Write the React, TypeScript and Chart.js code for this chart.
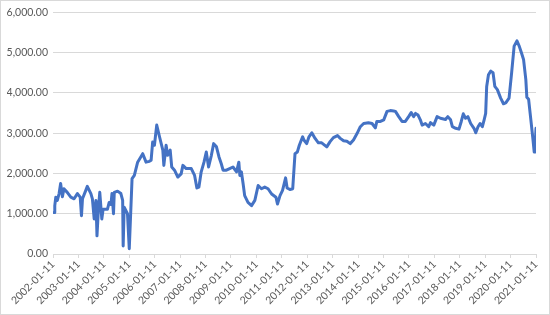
import React, { useEffect, useRef } from "react";
import { Chart, registerables } from "chart.js";

Chart.register(...registerables);

// decimal years
const dates = [
  2002.04, 2002.07, 2002.11, 2002.17, 2002.24, 2002.30, 2002.37, 2002.43, 2002.56, 2002.70,
  2002.83, 2002.96, 2003.07, 2003.12, 2003.16, 2003.29, 2003.35, 2003.49, 2003.55, 2003.62,
  2003.69, 2003.73, 2003.79, 2003.84, 2003.92, 2003.97, 2004.14, 2004.21, 2004.28, 2004.32,
  2004.38, 2004.41, 2004.54, 2004.67, 2004.74, 2004.76, 2004.80, 2004.93, 2005.00, 2005.11,
  2005.20, 2005.33, 2005.53, 2005.66, 2005.79, 2005.86, 2005.92, 2005.99, 2006.08, 2006.19,
  2006.32, 2006.36, 2006.45, 2006.51, 2006.61, 2006.67, 2006.78, 2006.91, 2007.04, 2007.11,
  2007.24, 2007.44, 2007.57, 2007.66, 2007.74, 2007.83, 2007.94, 2008.03, 2008.12, 2008.23,
  2008.32, 2008.43, 2008.53, 2008.62, 2008.69, 2008.82, 2008.95, 2009.08, 2009.22, 2009.31,
  2009.35, 2009.41, 2009.48, 2009.54, 2009.67, 2009.81, 2009.94, 2010.07, 2010.20, 2010.33,
  2010.46, 2010.60, 2010.77, 2010.83, 2010.93, 2011.03, 2011.15, 2011.21, 2011.32, 2011.43,
  2011.52, 2011.61, 2011.69, 2011.82, 2011.87, 2011.98, 2012.07, 2012.18, 2012.31, 2012.44,
  2012.57, 2012.77, 2012.90, 2013.03, 2013.19, 2013.30, 2013.43, 2013.56, 2013.69, 2013.82,
  2013.96, 2014.09, 2014.22, 2014.41, 2014.55, 2014.68, 2014.74, 2014.88, 2015.01, 2015.14,
  2015.27, 2015.40, 2015.47, 2015.60, 2015.73, 2015.86, 2015.99, 2016.09, 2016.19, 2016.26,
  2016.36, 2016.45, 2016.52, 2016.65, 2016.78, 2016.85, 2016.98, 2017.11, 2017.24, 2017.44,
  2017.53, 2017.64, 2017.71, 2017.84, 2017.97, 2018.06, 2018.14, 2018.23, 2018.32, 2018.43,
  2018.56, 2018.63, 2018.72, 2018.80, 2018.89, 2018.96, 2019.02, 2019.06, 2019.13, 2019.22,
  2019.31, 2019.38, 2019.48, 2019.61, 2019.72, 2019.81, 2019.94, 2020.04, 2020.14, 2020.25,
  2020.34, 2020.43, 2020.51, 2020.60, 2020.64, 2020.71, 2020.77, 2020.87, 2020.93, 2020.96,
  2021.00,
];

const values = [
  1030, 1200, 1410, 1330, 1500, 1750, 1420, 1620, 1530, 1410,
  1370, 1500, 1410, 950, 1370, 1580, 1680, 1500, 1370, 870,
  1330, 450, 1160, 1530, 870, 1110, 1110, 1280, 1230, 1500,
  1000, 1530, 1560, 1500, 1330, 200, 1160, 1000, 130, 1870,
  1950, 2280, 2490, 2280, 2300, 2330, 2780, 2700, 3200, 2910,
  2580, 2200, 2700, 2450, 2580, 2160, 2080, 1910, 1990, 2200,
  2120, 2120, 1950, 1640, 1660, 2040, 2280, 2530, 2160, 2450,
  2740, 2660, 2410, 2240, 2080, 2080, 2120, 2160, 2040, 2280,
  1950, 2040, 1740, 1450, 1280, 1200, 1330, 1700, 1620, 1660,
  1620, 1490, 1410, 1240, 1450, 1580, 1890, 1640, 1600, 1620,
  2490, 2530, 2700, 2910, 2830, 2740, 2910, 3010, 2870, 2760,
  2760, 2660, 2790, 2890, 2940, 2870, 2810, 2800, 2740, 2830,
  2990, 3160, 3240, 3260, 3240, 3130, 3290, 3290, 3330, 3540,
  3560, 3550, 3540, 3410, 3290, 3290, 3410, 3510, 3410, 3490,
  3450, 3330, 3200, 3240, 3160, 3260, 3200, 3410, 3370, 3340,
  3410, 3330, 3160, 3120, 3100, 3290, 3480, 3370, 3410, 3240,
  3120, 3010, 3160, 3240, 3160, 3330, 3490, 4160, 4450, 4540,
  4500, 4160, 4080, 3870, 3730, 3750, 3870, 4490, 5160, 5290,
  5160, 4990, 4830, 4330, 3890, 3840, 3490, 2910, 2530, 2600,
  3120,
];

const tickYears = [
  2002, 2003, 2004, 2005, 2006, 2007, 2008, 2009, 2010, 2011,
  2012, 2013, 2014, 2015, 2016, 2017, 2018, 2019, 2020, 2021,
];
const tickLabels = [
  "2002-01-11", "2003-01-11", "2004-01-11", "2005-01-11", "2006-01-11",
  "2007-01-11", "2008-01-11", "2009-01-11", "2010-01-11", "2011-01-11",
  "2012-01-11", "2013-01-11", "2014-01-11", "2015-01-11", "2016-01-11",
  "2017-01-11", "2018-01-11", "2019-01-11", "2020-01-11", "2021-01-11",
];
const yTicks = [0, 1000, 2000, 3000, 4000, 5000, 6000];

export default function App() {
  const ref = useRef<HTMLCanvasElement | null>(null);

  useEffect(() => {
    document.body.style.margin = "0";
    if (!ref.current) return;
    const font = { family: "Lato, 'Open Sans', sans-serif", size: 10.5 };
    const chart = new Chart(ref.current, {
      type: "line",
      data: {
        datasets: [
          {
            data: dates.map((d, i) => ({ x: d, y: values[i] })),
            borderColor: "#4472C4",
            borderWidth: 3,
            borderJoinStyle: "round",
            borderCapStyle: "round",
            pointRadius: 0,
            tension: 0,
            fill: false,
          },
        ],
      },
      options: {
        animation: false,
        responsive: true,
        maintainAspectRatio: false,
        layout: { padding: { top: 7, right: 13, left: 6, bottom: 0 } },
        plugins: { legend: { display: false }, tooltip: { enabled: false } },
        scales: {
          x: {
            type: "linear",
            min: 2002,
            max: 2021,
            afterBuildTicks: (scale: any) => {
              scale.ticks = tickYears.map((v) => ({ value: v }));
            },
            afterFit: (scale: any) => {
              scale.height = 60;
            },
            ticks: {
              autoSkip: false,
              minRotation: 45,
              maxRotation: 45,
              color: "#595959",
              font,
              padding: 0,
              callback: (v: any) => {
                const i = tickYears.indexOf(Number(v));
                return i >= 0 ? tickLabels[i] : "";
              },
            },
            grid: {
              drawOnChartArea: false,
              drawTicks: true,
              tickLength: 4,
              color: "#d9d9d9",
            },
            border: { display: true, color: "#d9d9d9", width: 1 },
          },
          y: {
            min: 0,
            max: 6000,
            afterBuildTicks: (scale: any) => {
              scale.ticks = yTicks.map((v) => ({ value: v }));
            },
            afterFit: (scale: any) => {
              scale.width = 46;
            },
            ticks: {
              color: "#595959",
              font,
              padding: 5,
              callback: (v: any) =>
                Number(v).toLocaleString("en-US", {
                  minimumFractionDigits: 2,
                  maximumFractionDigits: 2,
                }),
            },
            grid: { color: "#d9d9d9", drawTicks: false },
            border: { display: false },
          },
        },
      },
    });
    return () => chart.destroy();
  }, []);

  return (
    <div
      style={{
        width: 550,
        height: 315,
        boxSizing: "border-box",
        border: "1px solid #d9d9d9",
        position: "relative",
        background: "#fff",
      }}
    >
      <canvas ref={ref} />
    </div>
  );
}
